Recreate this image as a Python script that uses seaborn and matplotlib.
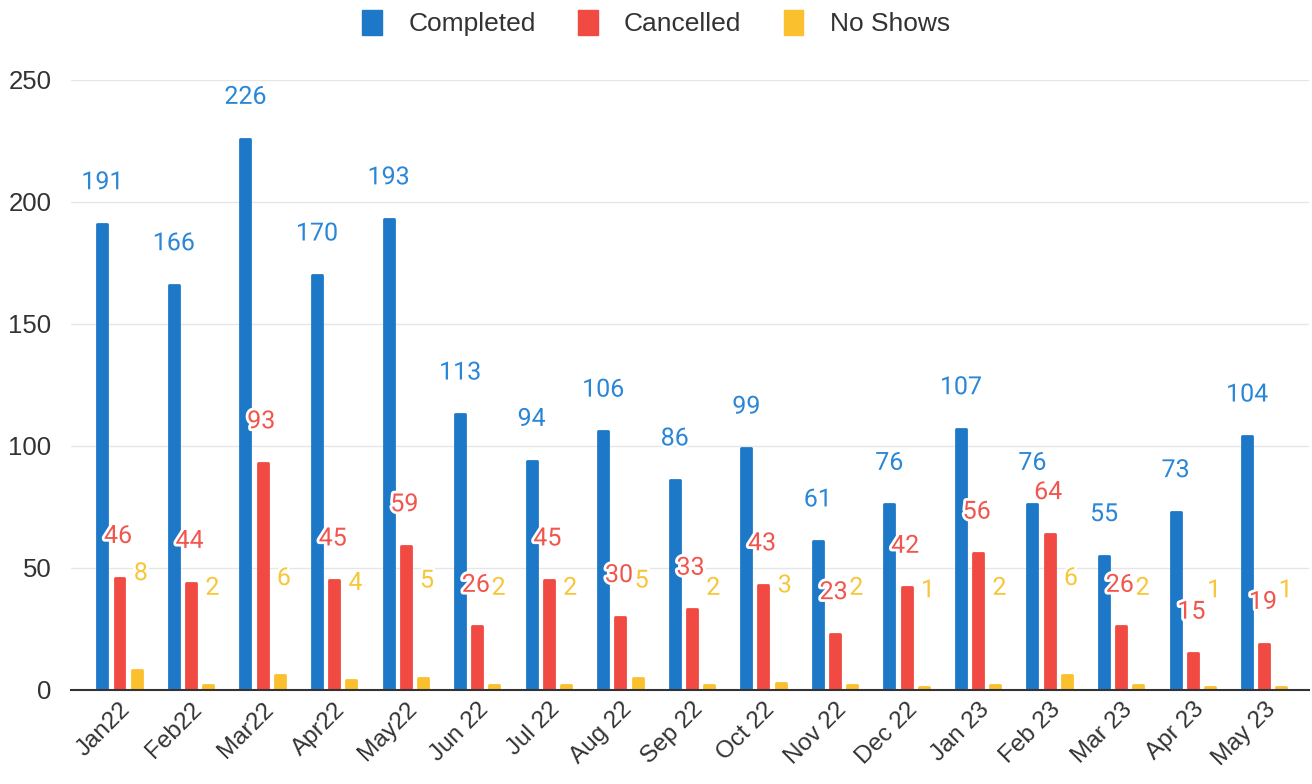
# libraries for data and plotting
import numpy as np
import pandas as pd
import matplotlib.pyplot as plt
import matplotlib.patheffects as pe
import seaborn as sns

# monthly appointment counts
months = ['Jan22', 'Feb22', 'Mar22', 'Apr22', 'May22', 'Jun 22', 'Jul 22', 'Aug 22',
          'Sep 22', 'Oct 22', 'Nov 22', 'Dec 22', 'Jan 23', 'Feb 23', 'Mar 23',
          'Apr 23', 'May 23']
completed = [191, 166, 226, 170, 193, 113, 94, 106, 86, 99, 61, 76, 107, 76, 55, 73, 104]
cancelled = [46, 44, 93, 45, 59, 26, 45, 30, 33, 43, 23, 42, 56, 64, 26, 15, 19]
no_shows = [8, 2, 6, 4, 5, 2, 2, 5, 2, 3, 2, 1, 2, 6, 2, 1, 1]
series = ['Completed', 'Cancelled', 'No Shows']
colors = ['#1e78c8', '#f04a42', '#fbc02d']
label_colors = ['#2a86d6', '#f0564e', '#f8c63a']

# long format table for seaborn
df = pd.DataFrame({'month': months * 3,
                   'status': np.repeat(series, len(months)),
                   'count': completed + cancelled + no_shows})

fig = plt.figure(figsize=(13.12, 7.84), dpi=100)
ax = fig.add_axes([0.054, 0.12, 0.944, 0.778])

sns.barplot(data=df, x='month', y='count', hue='status', hue_order=series,
            palette=colors, width=0.72, gap=0.42, ax=ax, legend=False,
            linewidth=2, saturation=1)

# round the bar tops a little by stroking the edge in the same colour
for patch in ax.patches:
    patch.set_edgecolor(patch.get_facecolor())
    patch.set_joinstyle('round')

# value labels with a white halo
offsets = [(0, 30), (-1, 30), (3, 70)]
for cont, col, off in zip(ax.containers, label_colors, offsets):
    for bar, val in zip(cont, cont.datavalues):
        ax.annotate(f'{int(val)}', (bar.get_x() + bar.get_width() / 2, val),
                    xytext=off, textcoords='offset points',
                    ha='center', va='center', fontsize=18, color=col,
                    family='Roboto',
                    path_effects=[pe.withStroke(linewidth=4, foreground='white')])

ax.set_ylim(0, 250)
ax.set_xlim(-0.68, 16.63)
ax.set_yticks([0, 50, 100, 150, 200, 250])
ax.yaxis.grid(True, color='#e6e6e6', linewidth=1)
ax.set_axisbelow(True)
ax.tick_params(axis='both', length=0, labelsize=18.5, colors='#333333')
ax.tick_params(axis='y', pad=14)
ax.tick_params(axis='x', pad=6)
plt.setp(ax.get_xticklabels(), rotation=45, ha='right', rotation_mode='anchor',
         family='Liberation Sans', fontsize=17.5)
plt.setp(ax.get_yticklabels(), family='Liberation Sans')
ax.set_xlabel('')
ax.set_ylabel('')
for s in ['top', 'right', 'left']:
    ax.spines[s].set_visible(False)
ax.spines['bottom'].set_color('#333333')
ax.spines['bottom'].set_linewidth(1.5)

# legend across the top
handles = [plt.Rectangle((0, 0), 1, 1, color=c) for c in colors]
fig.legend(handles, series, loc='upper center', bbox_to_anchor=(0.5, 1.018), ncol=3,
           frameon=False, prop={'family': 'Liberation Sans', 'size': 19},
           handlelength=0.75, handleheight=1.1, columnspacing=1.6, handletextpad=1.0,
           labelcolor='#333333')

fig.savefig('out.png', dpi=100)
